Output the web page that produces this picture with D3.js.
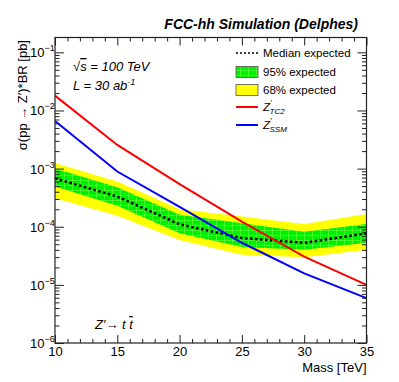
<!DOCTYPE html>
<html>
<head>
<meta charset="utf-8">
<title>Z' to tt limits</title>
<script src="https://cdn.jsdelivr.net/npm/d3@7"></script>
<style>
  body { margin: 0; background: #fff; }
  svg { font-family: "Liberation Sans", Arial, sans-serif; }
</style>
</head>
<body>
<script>
// data
const mass = [10, 15, 20, 25, 30, 35];
const median   = [6.8e-4, 3.3e-4, 1.1e-4, 6.4e-5, 5.3e-5, 7.7e-5];
const greenHi  = [1.0e-3, 4.8e-4, 1.6e-4, 1.15e-4, 8.2e-5, 1.12e-4];
const greenLo  = [4.9e-4, 2.3e-4, 7.7e-5, 4.5e-5, 4.0e-5, 5.3e-5];
const yellowHi = [1.25e-3, 6.0e-4, 2.0e-4, 1.5e-4, 1.12e-4, 1.66e-4];
const yellowLo = [3.1e-4, 1.55e-4, 5.9e-5, 3.3e-5, 3.0e-5, 4.0e-5];
const zTC2 = [1.8e-2, 2.55e-3, 5.4e-4, 1.22e-4, 3.05e-5, 1.0e-5];
const zSSM = [6.6e-3, 8.9e-4, 2.2e-4, 5.3e-5, 1.58e-5, 5.9e-6];

const xMajor = [10, 15, 20, 25, 30, 35];
const yMajor = [1e-6, 1e-5, 1e-4, 1e-3, 1e-2, 1e-1];
const yExp = ['-6', '-5', '-4', '-3', '-2', '-1'];

const W = 399, H = 382;
const fL = 55, fR = 366.5, fT = 37.5, fB = 343;

const svg = d3.select('body').append('svg')
  .attr('width', W).attr('height', H);

const x = d3.scaleLinear().domain([10, 35]).range([fL, fR]);
const y = d3.scaleLog().domain([1e-6, 0.18]).range([fB, fT]);

// hatch for the green band (faint grid like ROOT's fill style)
const defs = svg.append('defs');
const pat = defs.append('pattern').attr('id', 'hatch')
  .attr('patternUnits', 'userSpaceOnUse').attr('width', 8).attr('height', 5);
pat.append('rect').attr('width', 8).attr('height', 5).attr('fill', '#00f000');
pat.append('path').attr('d', 'M0,0.5H8M0.5,0V5')
  .attr('stroke', '#9cff6a').attr('stroke-width', 0.4);

defs.append('clipPath').attr('id', 'frame')
  .append('rect').attr('x', fL).attr('y', fT)
  .attr('width', fR - fL).attr('height', fB - fT);

const plot = svg.append('g').attr('clip-path', 'url(#frame)');

const band = function(lo, hi) {
  return d3.area()
    .x(function(d, i) { return x(mass[i]); })
    .y0(function(d, i) { return y(lo[i]); })
    .y1(function(d, i) { return y(hi[i]); })(mass);
};
plot.append('path').attr('d', band(yellowLo, yellowHi)).attr('fill', '#ffff00');
plot.append('path').attr('d', band(greenLo, greenHi)).attr('fill', 'url(#hatch)');

const line = d3.line()
  .x(function(d, i) { return x(mass[i]); })
  .y(function(d) { return y(d); });

plot.append('path').datum(median).attr('d', line)
  .attr('fill', 'none').attr('stroke', '#000').attr('stroke-width', 2.5)
  .attr('stroke-dasharray', '2.5,2.5');
plot.append('path').datum(zTC2).attr('d', line)
  .attr('fill', 'none').attr('stroke', '#ff0000').attr('stroke-width', 2);
plot.append('path').datum(zSSM).attr('d', line)
  .attr('fill', 'none').attr('stroke', '#0000ff').attr('stroke-width', 2);

// axes: ticks drawn inside the frame on all four sides
const xMinor = d3.range(10, 35.01, 1).filter(function(v) { return v % 5 !== 0; });
const yMinor = [];
for (let e = -6; e <= -1; e++) {
  for (let k = 2; k <= 9; k++) {
    const v = k * Math.pow(10, e);
    if (v < 0.18) yMinor.push(v);
  }
}

function styleAxis(g) {
  g.select('.domain').remove();
  g.selectAll('line').attr('stroke', '#222');
}

svg.append('g').attr('transform', 'translate(0,' + fB + ')')
  .call(d3.axisBottom(x).tickValues(xMajor).tickSize(-8).tickPadding(4).tickFormat(d3.format('d')))
  .call(styleAxis)
  .call(function(g) {
    g.selectAll('text').attr('font-size', 13).attr('fill', '#000')
      .attr('font-family', '"Liberation Sans", Arial, sans-serif');
  });
svg.append('g').attr('transform', 'translate(0,' + fB + ')')
  .call(d3.axisBottom(x).tickValues(xMinor).tickSize(-4).tickFormat(''))
  .call(styleAxis);
svg.append('g').attr('transform', 'translate(0,' + fT + ')')
  .call(d3.axisBottom(x).tickValues(xMajor).tickSize(8).tickFormat(''))
  .call(styleAxis);
svg.append('g').attr('transform', 'translate(0,' + fT + ')')
  .call(d3.axisBottom(x).tickValues(xMinor).tickSize(4).tickFormat(''))
  .call(styleAxis);

svg.append('g').attr('transform', 'translate(' + fL + ',0)')
  .call(d3.axisRight(y).tickValues(yMajor).tickSize(9).tickFormat(''))
  .call(styleAxis);
svg.append('g').attr('transform', 'translate(' + fL + ',0)')
  .call(d3.axisRight(y).tickValues(yMinor).tickSize(4.5).tickFormat(''))
  .call(styleAxis);
svg.append('g').attr('transform', 'translate(' + fR + ',0)')
  .call(d3.axisLeft(y).tickValues(yMajor).tickSize(9).tickFormat(''))
  .call(styleAxis);
svg.append('g').attr('transform', 'translate(' + fR + ',0)')
  .call(d3.axisLeft(y).tickValues(yMinor).tickSize(4.5).tickFormat(''))
  .call(styleAxis);

// y labels 10^n
const yLab = svg.append('g').attr('font-size', 13).attr('fill', '#000');
yMajor.forEach(function(v, i) {
  const t = yLab.append('text')
    .attr('x', 30).attr('y', y(v) + 5);
  t.append('tspan').text('10');
  t.append('tspan').attr('font-size', 9).attr('dy', -6).text('\u2212' + yExp[i].slice(1));
});

// frame
svg.append('rect').attr('x', fL).attr('y', fT)
  .attr('width', fR - fL).attr('height', fB - fT)
  .attr('fill', 'none').attr('stroke', '#222').attr('stroke-width', 1.2);

// titles
svg.append('text').attr('x', 358).attr('y', 29)
  .attr('text-anchor', 'end').attr('font-size', 14)
  .attr('font-weight', 'bold').attr('font-style', 'italic')
  .text('FCC-hh Simulation (Delphes)');

svg.append('text').attr('transform', 'translate(27,40) rotate(-90)')
  .attr('text-anchor', 'end').attr('font-size', 13)
  .text('\u03c3(pp \u2192 Z\u2032)*BR [pb]');

svg.append('text').attr('x', fR).attr('y', 372)
  .attr('text-anchor', 'end').attr('font-size', 13)
  .text('Mass [TeV]');

const ann = svg.append('g').attr('font-size', 13).attr('font-style', 'italic');
const s1 = ann.append('text').attr('x', 73).attr('y', 71);
s1.append('tspan').text('\u221a');
s1.append('tspan').attr('text-decoration', 'overline').text('s');
s1.append('tspan').text(' = 100 TeV');
const s2 = ann.append('text').attr('x', 73).attr('y', 90);
s2.append('tspan').text('L = 30 ab');
s2.append('tspan').attr('font-size', 9).attr('dy', -5).text('-1');
const s3 = ann.append('text').attr('x', 95).attr('y', 329);
s3.append('tspan').text('Z\u2032\u2192 t ');
s3.append('tspan').attr('text-decoration', 'overline').text('t');

// legend
const lg = svg.append('g').attr('font-size', 11.5);
const lx0 = 236, lx1 = 258, tx = 263;
lg.append('line').attr('x1', lx0).attr('x2', lx1).attr('y1', 53).attr('y2', 53)
  .attr('stroke', '#000').attr('stroke-width', 1.5).attr('stroke-dasharray', '2,2');
lg.append('text').attr('x', tx).attr('y', 57).text('Median expected');
lg.append('rect').attr('x', lx0).attr('y', 66.5).attr('width', lx1 - lx0).attr('height', 11)
  .attr('fill', 'url(#hatch)').attr('stroke', '#555').attr('stroke-width', 0.8);
lg.append('text').attr('x', tx).attr('y', 76).text('95% expected');
lg.append('rect').attr('x', lx0).attr('y', 84.5).attr('width', lx1 - lx0).attr('height', 11)
  .attr('fill', '#ffff00').attr('stroke', '#555').attr('stroke-width', 0.8);
lg.append('text').attr('x', tx).attr('y', 94).text('68% expected');
lg.append('line').attr('x1', lx0).attr('x2', lx1).attr('y1', 107).attr('y2', 107)
  .attr('stroke', '#ff0000').attr('stroke-width', 2);
const l4 = lg.append('text').attr('x', tx).attr('y', 111).attr('font-style', 'italic');
l4.append('tspan').text('Z');
l4.append('tspan').attr('font-size', 8).attr('dy', -6).text('\u2032');
l4.append('tspan').attr('font-size', 8).attr('dy', 9).attr('dx', -2).text('TC2');
lg.append('line').attr('x1', lx0).attr('x2', lx1).attr('y1', 125).attr('y2', 125)
  .attr('stroke', '#0000ff').attr('stroke-width', 2);
const l5 = lg.append('text').attr('x', tx).attr('y', 129).attr('font-style', 'italic');
l5.append('tspan').text('Z');
l5.append('tspan').attr('font-size', 8).attr('dy', -6).text('\u2032');
l5.append('tspan').attr('font-size', 8).attr('dy', 9).attr('dx', -2).text('SSM');
</script>
</body>
</html>
